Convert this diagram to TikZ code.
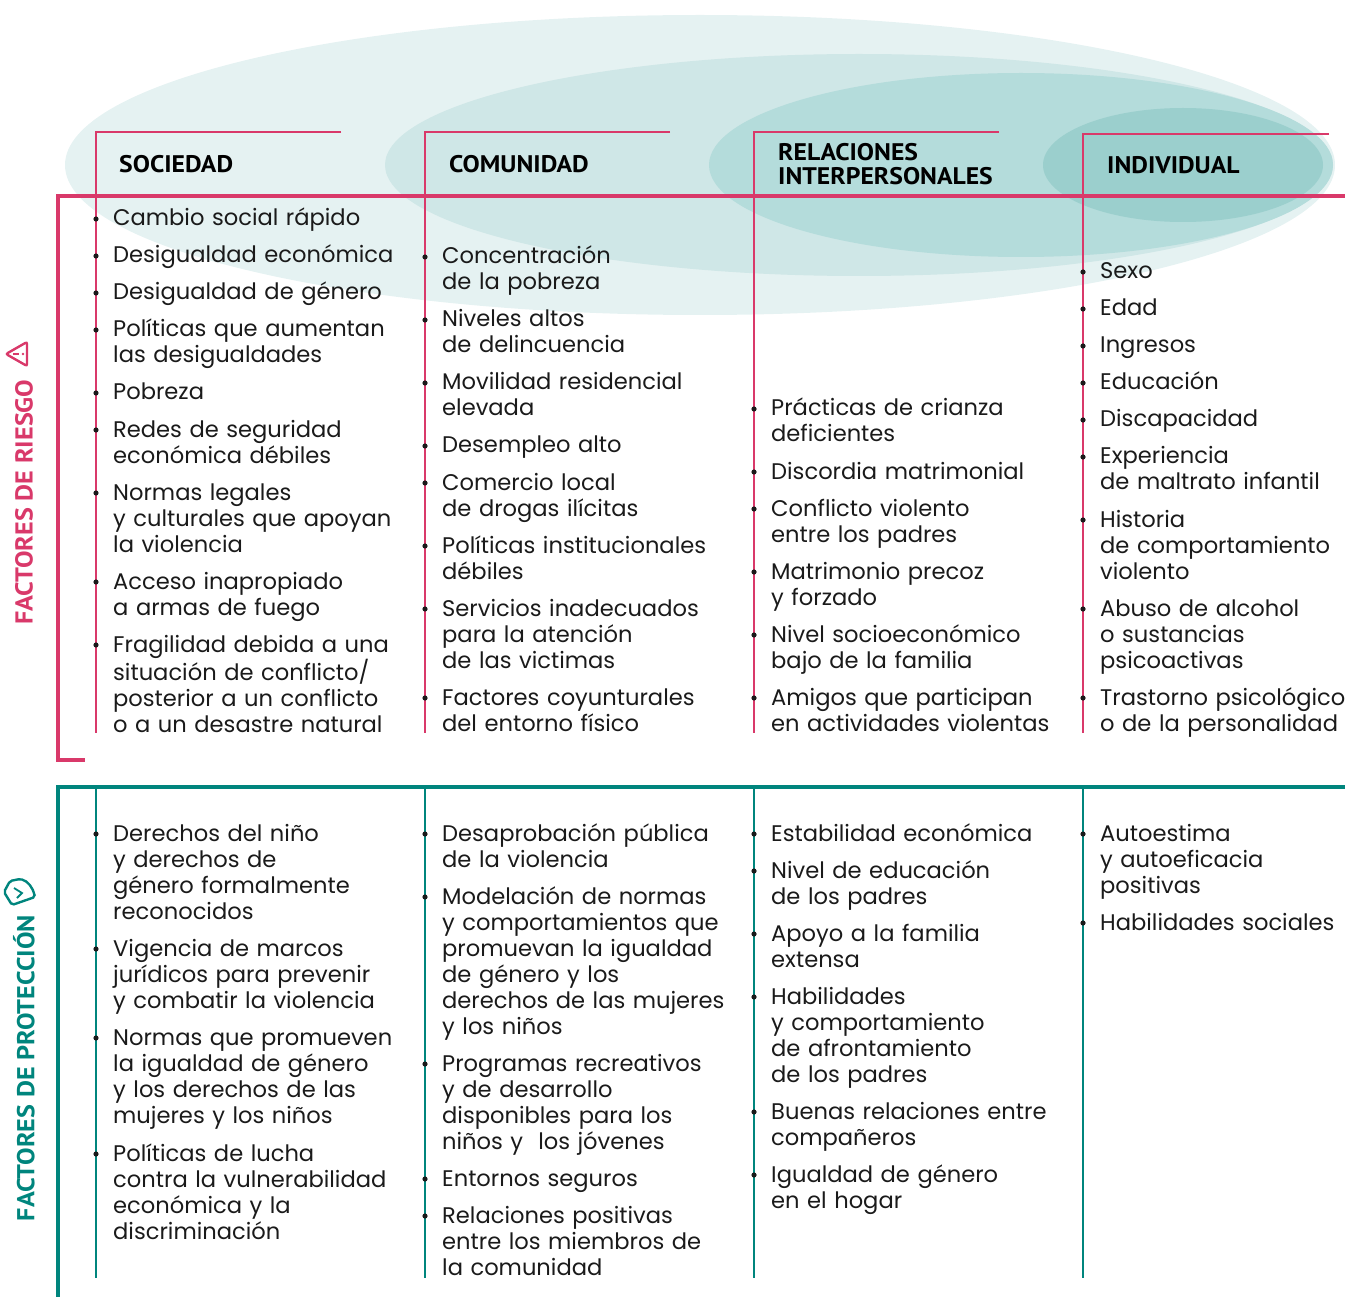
\documentclass[tikz,border=0pt]{standalone}
\usepackage{fontspec}
\setmainfont{Poppins}
\newfontfamily\hdrfont[FakeStretch=1.07]{PT Sans}
\usetikzlibrary{positioning}

\definecolor{riesgo}{RGB}{217,57,106}
\definecolor{proteccion}{RGB}{0,133,125}
\definecolor{elA}{RGB}{229,242,242}
\definecolor{elB}{RGB}{207,231,231}
\definecolor{elC}{RGB}{180,220,219}
\definecolor{elD}{RGB}{155,207,205}
\definecolor{texto}{RGB}{26,26,26}

\tikzset{
  hdr/.style={anchor=base west, inner sep=0pt, font=\hdrfont\bfseries\fontsize{24}{24}\selectfont, text width=300pt},
  itm/.style={anchor=base west, inner sep=0pt, text width=330pt, align=left, text=texto, font=\fontsize{22.6}{26}\selectfont},
  side/.style={rotate=90, inner sep=0pt, font=\hdrfont\bfseries\fontsize{24.5}{25}\selectfont},
  thin/.style={line width=1.3pt},
  thick/.style={line width=3.5pt}
}

\begin{document}
\begin{tikzpicture}[x=1pt, y=-1pt]
  \useasboundingbox (0,0) rectangle (1345,1297);

  % ellipses
  \fill[elA] (700,165) ellipse [x radius=635, y radius=150];
  \fill[elB] (859,165) ellipse [x radius=474, y radius=111];
  \fill[elC] (1021,165) ellipse [x radius=312, y radius=92];
  \fill[elD] (1183,165) ellipse [x radius=140, y radius=57];

  % headers
  \node[hdr] (soc) at (119,173) {SOCIEDAD};
  \node[hdr] (com) at (449,173) {COMUNIDAD};
  \node[hdr] (rel) at (778,161) {RELACIONES\\INTERPERSONALES};
  \node[hdr] (ind) at (1107,174) {INDIVIDUAL};

  % frames
  \draw[riesgo, thick] (1345,196) -- (58,196) -- (58,760) -- (85,760);
  \draw[proteccion, thick] (1345,787) -- (58,787) -- (58,1297);
  \draw[riesgo, thin] (341,132) -- (96,132) -- (96,733);
  \draw[riesgo, thin] (670,132) -- (425,132) -- (425,733);
  \draw[riesgo, thin] (999,132) -- (754,132) -- (754,733);
  \draw[riesgo, thin] (1329,134) -- (1083,134) -- (1083,733);
  \foreach \x in {96,425,754,1083}
    \draw[proteccion, thin] (\x,787) -- (\x,1278);

  % side labels
  \node[side, text=riesgo] (riesgo) at (24,502) {FACTORES DE RIESGO};
  \node[side, text=proteccion] (prot) at (24,1068) {FACTORES DE PROTECCIÓN};
  \draw[riesgo, line width=2.4pt, rounded corners=2pt] (6,354) -- (27,342) -- (27,366) -- cycle;
  \draw[riesgo, line width=2.2pt] (13,354) -- (19,354);
  \fill[riesgo] (23,354) circle (1.3pt);
  \draw[proteccion, line width=2.4pt, rounded corners=2pt] (4,892) -- (10,881) -- (20,879) .. controls (28,881) and (33,888) .. (35,897) -- (12,905) -- cycle;
  \draw[proteccion, line width=1.8pt] (14,888) -- (22,893) -- (17,898);

  % factores de riesgo
  \node[itm] (s1) at (113,226) {Cambio social rápido};
  \node[itm] (s2) at (113,263) {Desigualdad económica};
  \node[itm] (s3) at (113,300) {Desigualdad de género};
  \node[itm] (s4) at (113,337) {Políticas que aumentan\\las desigualdades};
  \node[itm] (s5) at (113,400) {Pobreza};
  \node[itm] (s6) at (113,437) {Redes de seguridad\\económica débiles};
  \node[itm] (s7) at (113,500) {Normas legales\\y culturales que apoyan\\la violencia};
  \node[itm] (s8) at (113,589) {Acceso inapropiado\\a armas de fuego};
  \node[itm] (s9) at (113,652) {Fragilidad debida a una\\situación de conflicto/\\posterior a un conflicto\\o a un desastre natural};

  \node[itm] (c1) at (442,264) {Concentración\\de la pobreza};
  \node[itm] (c2) at (442,327) {Niveles altos\\de delincuencia};
  \node[itm] (c3) at (442,390) {Movilidad residencial\\elevada};
  \node[itm] (c4) at (442,453) {Desempleo alto};
  \node[itm] (c5) at (442,490) {Comercio local\\de drogas ilícitas};
  \node[itm] (c6) at (442,553) {Políticas institucionales\\débiles};
  \node[itm] (c7) at (442,616) {Servicios inadecuados\\para la atención\\de las victimas};
  \node[itm] (c8) at (442,705) {Factores coyunturales\\del entorno físico};

  \node[itm] (r1) at (771,416) {Prácticas de crianza\\deficientes};
  \node[itm] (r2) at (771,479) {Discordia matrimonial};
  \node[itm] (r3) at (771,516) {Conflicto violento\\entre los padres};
  \node[itm] (r4) at (771,579) {Matrimonio precoz\\y forzado};
  \node[itm] (r5) at (771,642) {Nivel socioeconómico\\bajo de la familia};
  \node[itm] (r6) at (771,705) {Amigos que participan\\en actividades violentas};

  \node[itm] (i1) at (1100,279) {Sexo};
  \node[itm] (i2) at (1100,316) {Edad};
  \node[itm] (i3) at (1100,353) {Ingresos};
  \node[itm] (i4) at (1100,390) {Educación};
  \node[itm] (i5) at (1100,427) {Discapacidad};
  \node[itm] (i6) at (1100,464) {Experiencia\\de maltrato infantil};
  \node[itm] (i7) at (1100,527) {Historia\\de comportamiento\\violento};
  \node[itm] (i8) at (1100,616) {Abuso de alcohol\\o sustancias\\psicoactivas};
  \node[itm] (i9) at (1100,705) {Trastorno psicológico\\o de la personalidad};

  % factores de proteccion
  \node[itm] (ps1) at (113,841) {Derechos del niño\\y derechos de\\género formalmente\\reconocidos};
  \node[itm] (ps2) at (113,956) {Vigencia de marcos\\jurídicos para prevenir\\y combatir la violencia};
  \node[itm] (ps3) at (113,1045) {Normas que promueven\\la igualdad de género\\y los derechos de las\\mujeres y los niños};
  \node[itm] (ps4) at (113,1161) {Políticas de lucha\\contra la vulnerabilidad\\económica y la\\discriminación};

  \node[itm] (pc1) at (442,841) {Desaprobación pública\\de la violencia};
  \node[itm] (pc2) at (442,904) {Modelación de normas\\y comportamientos que\\promuevan la igualdad\\de género y los\\derechos de las mujeres\\y los niños};
  \node[itm] (pc3) at (442,1071) {Programas recreativos\\y de desarrollo\\disponibles para los\\niños y\ \ los jóvenes};
  \node[itm] (pc4) at (442,1186) {Entornos seguros};
  \node[itm] (pc5) at (442,1223) {Relaciones positivas\\entre los miembros de\\la comunidad};

  \node[itm] (pr1) at (771,841) {Estabilidad económica};
  \node[itm] (pr2) at (771,878) {Nivel de educación\\de los padres};
  \node[itm] (pr3) at (771,941) {Apoyo a la familia\\extensa};
  \node[itm] (pr4) at (771,1004) {Habilidades\\y comportamiento\\de afrontamiento\\de los padres};
  \node[itm] (pr5) at (771,1119) {Buenas relaciones entre\\compañeros};
  \node[itm] (pr6) at (771,1182) {Igualdad de género\\en el hogar};

  \node[itm] (pi1) at (1100,841) {Autoestima\\y autoeficacia\\positivas};
  \node[itm] (pi2) at (1100,930) {Habilidades sociales};

  % bullets
  \foreach \n in {s1,s2,s3,s4,s5,s6,s7,s8,s9,c1,c2,c3,c4,c5,c6,c7,c8,r1,r2,r3,r4,r5,r6,i1,i2,i3,i4,i5,i6,i7,i8,i9,ps1,ps2,ps3,ps4,pc1,pc2,pc3,pc4,pc5,pr1,pr2,pr3,pr4,pr5,pr6,pi1,pi2}
    \fill[texto] ([xshift=-17pt, yshift=7pt]\n.base west) circle (2.6pt);
\end{tikzpicture}
\end{document}
